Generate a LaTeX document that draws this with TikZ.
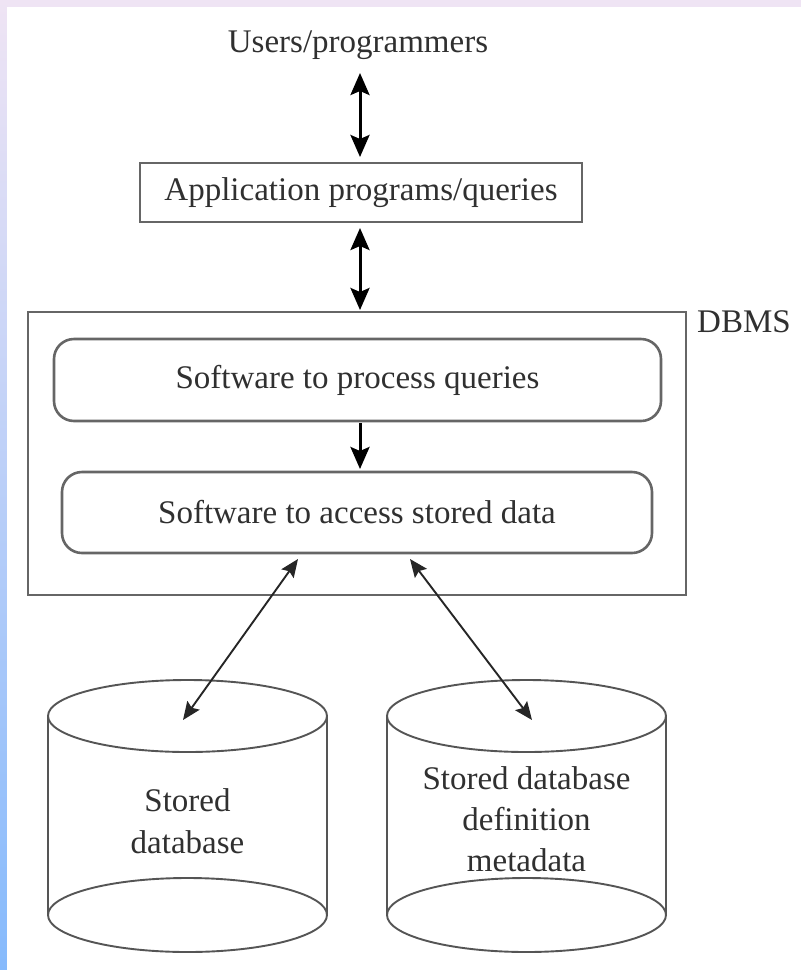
\documentclass[tikz,border=0pt]{standalone}
\usepackage{fontspec}
\setmainfont{Liberation Serif}
\usetikzlibrary{arrows.meta}
\definecolor{inkline}{HTML}{666666}
\definecolor{drumline}{HTML}{555555}
\definecolor{inktext}{HTML}{303030}
\definecolor{edgetop}{HTML}{EFE4F4}
\definecolor{edgebottom}{HTML}{86BAFC}
\tikzset{
  lbl/.style={text=inktext, font=\fontsize{33}{42}\selectfont, inner sep=0pt, align=center},
  plainbox/.style={draw=inkline, line width=2.6pt},
  softbox/.style={plainbox, rounded corners=20pt},
  bighead/.tip={Stealth[length=22pt,width=19pt,inset=4pt]},
  smallhead/.tip={Stealth[length=18pt,width=15pt,inset=3pt]},
  dbl/.style={bighead-bighead, line width=3pt, black},
  thin dbl/.style={smallhead-smallhead, line width=1.9pt, black!85},
  one way/.style={-bighead, line width=3pt, black},
  drum/.style={draw=drumline, line width=1.9pt}
}
\begin{document}
\begin{tikzpicture}[x=1pt,y=-1pt]
  % page frame with the coloured edges
  \useasboundingbox (0,0) rectangle (801,970);
  \fill[edgetop] (0,0) rectangle (801,970);
  \shade[top color=edgetop, bottom color=edgebottom] (0,0) rectangle (7,970);
  \fill[white] (7,7) rectangle (801,970);

  % upper chain
  \node[lbl] (users) at (358,45) {Users/programmers};
  \node[plainbox, minimum width=442pt, minimum height=59pt] (app) at (361,192.5) {};
  \node[lbl] (apptext) at (app) {Application programs/queries};

  % DBMS container and its two layers
  \node[plainbox, minimum width=658pt, minimum height=283pt] (dbms) at (357,453.5) {};
  \node[lbl, anchor=base west] (dbmslbl) at (697,332) {DBMS};
  \node[softbox, minimum width=607pt, minimum height=82pt] (proc) at (357.5,380) {};
  \node[lbl] (proctext) at (proc) {Software to process queries};
  \node[softbox, minimum width=590pt, minimum height=81pt] (acc) at (357,512.5) {};
  \node[lbl] (acctext) at (acc) {Software to access stored data};

  % two storage drums
  \foreach \cx/\nm in {187.5/dbA, 526.5/dbB}{
    \draw[drum] (\cx,716) ellipse [x radius=139.5pt, y radius=36pt];
    \draw[drum] (\cx,915) ellipse [x radius=139.5pt, y radius=37pt];
    \draw[drum] (\cx-139.5,716) -- (\cx-139.5,915);
    \draw[drum] (\cx+139.5,716) -- (\cx+139.5,915);
    \coordinate (\nm) at (\cx,716);
  }
  \node[lbl] (dbAtext) at (187.5,821) {Stored\\database};
  \node[lbl, font=\fontsize{33}{41}\selectfont] (dbBtext) at (526.5,819) {Stored database\\definition\\metadata};

  % link points
  \coordinate (usersfoot) at (360,73);
  \coordinate (apphead) at (360,157);
  \coordinate (appfoot) at (360,228);
  \coordinate (dbmshead) at (360,310);
  \coordinate (procfoot) at (360,423);
  \coordinate (acchead) at (360,469);
  \coordinate (accL) at (298,559);
  \coordinate (accR) at (410,559);
  \coordinate (dbAtop) at (183,720);
  \coordinate (dbBtop) at (532,720);

  % connectors
  \draw[dbl] (usersfoot) -- (apphead);
  \draw[dbl] (appfoot) -- (dbmshead);
  \draw[one way] (procfoot) -- (acchead);
  \draw[thin dbl] (accL) -- (dbAtop);
  \draw[thin dbl] (accR) -- (dbBtop);
\end{tikzpicture}
\end{document}
